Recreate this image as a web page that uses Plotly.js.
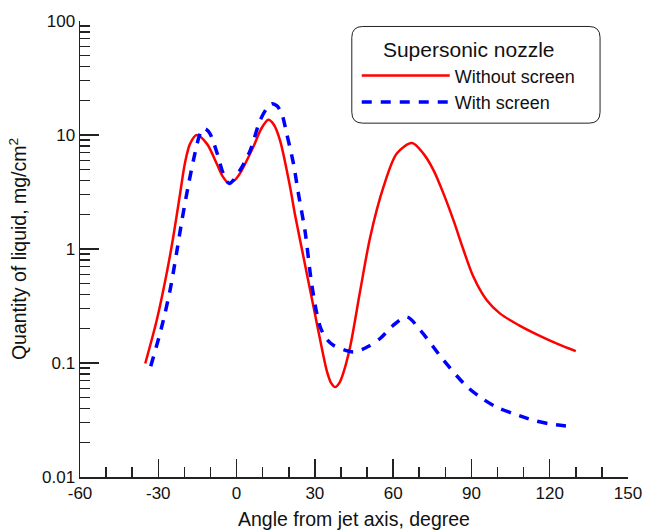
<!DOCTYPE html>
<html>
<head>
<meta charset="utf-8">
<script src="https://cdn.plot.ly/plotly-3.0.1.min.js"></script>
<style>html,body{margin:0;padding:0;background:#fff;}#chart{width:646px;height:530px;}</style>
</head>
<body>
<div id="chart"></div>
<script>
// Without screen (red, solid)
const xWithout = [-35, -30.6, -26.8, -24.2, -21.7, -19.7, -17.8, -15.3, -11.4, -7.6, -5.5, -3.1, -0.8, 1.3, 6.4, 9.5, 12.2, 14.3, 16.7, 20.5, 22.4, 25.6, 29.5, 32.7, 34.6, 36.2, 37.8, 39.4, 41, 43.5, 47.4, 51.2, 56.3, 61.4, 67.2, 71.6, 75.5, 79.3, 83.1, 87.0, 90.8, 95.9, 101, 108.1, 116.4, 123, 130];
const yWithout = [0.099, 0.237, 0.61, 1.3, 3.0, 5.8, 8.4, 10.0, 8.4, 5.6, 4.4, 3.8, 4.0, 4.6, 7.85, 11.4, 13.6, 12.3, 8.9, 3.5, 2.0, 0.86, 0.31, 0.134, 0.085, 0.067, 0.0615, 0.067, 0.083, 0.138, 0.434, 1.27, 3.5, 6.87, 8.5, 6.87, 4.9, 3.06, 1.79, 0.975, 0.568, 0.355, 0.271, 0.215, 0.172, 0.147, 0.127];
// With screen (blue, dashed)
const xWith = [-32.9, -28.7, -25.5, -22.9, -21, -18.5, -15.9, -14.3, -13, -11.6, -10.2, -7.6, -5.1, -2.8, 1.3, 5.2, 9.0, 11.5, 13.5, 15.5, 17.3, 19.2, 21.8, 23.7, 26.3, 28.5, 30.5, 32.3, 34.5, 37.1, 44.8, 50, 55, 60, 65.3, 70.4, 79.3, 88.3, 94.6, 99.7, 106, 113.8, 121, 129.1];
const yWith = [0.0935, 0.207, 0.434, 0.95, 1.75, 3.6, 7.0, 9.8, 11.4, 11.2, 10.3, 7.1, 4.6, 3.75, 4.9, 7.3, 13.4, 17.0, 18.8, 18.0, 15.4, 10.3, 5.6, 3.06, 1.4, 0.55, 0.29, 0.2, 0.162, 0.143, 0.125, 0.138, 0.164, 0.214, 0.253, 0.194, 0.106, 0.062, 0.048, 0.041, 0.036, 0.0314, 0.029, 0.0275];

const xTicks = [-60, -30, 0, 30, 60, 90, 120, 150];
const xTickText = ['-60', '-30', '0', '30', '60', '90', '120', '150'];
const yTicks = [0.01, 0.1, 1, 10, 100];
const yTickText = ['0.01', '0.1', '1', '10', '100'];
const yMinor = [0.02,0.03,0.04,0.05,0.06,0.07,0.08,0.09,0.2,0.3,0.4,0.5,0.6,0.7,0.8,0.9,2,3,4,5,6,7,8,9,20,30,40,50,60,70,80,90];

const font = 'Liberation Sans, Arial, sans-serif';
const axisColor = '#222';

const traces = [
  {x: xWithout, y: yWithout, mode: 'lines', name: 'Without screen',
   line: {color: '#ff0000', width: 2.5, shape: 'spline', smoothing: 0.85}},
  {x: xWith, y: yWith, mode: 'lines', name: 'With screen',
   line: {color: '#0000ff', width: 3.5, dash: '10px,9px', shape: 'spline', smoothing: 0.85}}
];

// rounded legend frame in paper coords
const bx0 = 0.496, bx1 = 0.949, by0 = 0.776, by1 = 0.988, rx = 0.02, ry = 0.024;
const framePath = `M ${bx0+rx} ${by1} L ${bx1-rx} ${by1} Q ${bx1} ${by1} ${bx1} ${by1-ry} L ${bx1} ${by0+ry} Q ${bx1} ${by0} ${bx1-rx} ${by0} L ${bx0+rx} ${by0} Q ${bx0} ${by0} ${bx0} ${by0+ry} L ${bx0} ${by1-ry} Q ${bx0} ${by1} ${bx0+rx} ${by1} Z`;

const layout = {
  width: 646, height: 530,
  margin: {l: 80, r: 18, t: 21, b: 53, pad: 0},
  paper_bgcolor: '#fff', plot_bgcolor: '#fff',
  font: {family: font, size: 17, color: '#111'},
  showlegend: true,
  legend: {
    x: 0.505, y: 0.98, xanchor: 'left', yanchor: 'top',
    bgcolor: 'rgba(0,0,0,0)', borderwidth: 0,
    itemwidth: 88,
    font: {family: font, size: 18, color: '#111'},
    title: {text: 'Supersonic nozzle', side: 'top center', font: {family: font, size: 21, color: '#111'}},
    tracegroupgap: 0
  },
  shapes: [
    {type: 'path', xref: 'paper', yref: 'paper', path: framePath,
     line: {color: '#222', width: 1}, fillcolor: 'rgba(0,0,0,0)', layer: 'above'}
  ],
  xaxis: {
    range: [-60, 150], tickmode: 'array', tickvals: xTicks, ticktext: xTickText,
    ticks: 'inside', ticklen: 18, tickwidth: 1.5, tickcolor: axisColor,
    showline: true, linecolor: axisColor, linewidth: 1.5,
    showgrid: false, zeroline: false,
    tickfont: {family: font, size: 17, color: '#111'},
    minor: {dtick: 10, tick0: 0, ticks: 'inside', ticklen: 10, tickwidth: 1.5, tickcolor: axisColor, showgrid: false},
    title: {text: 'Angle from jet axis, degree', font: {family: font, size: 19.5, color: '#111'}, standoff: 10}
  },
  yaxis: {
    type: 'log', range: [-2, 2], tickmode: 'array', tickvals: yTicks, ticktext: yTickText,
    ticks: 'inside', ticklen: 19, tickwidth: 1.5, tickcolor: axisColor,
    showline: true, linecolor: axisColor, linewidth: 1.5,
    showgrid: false, zeroline: false,
    tickfont: {family: font, size: 17, color: '#111'},
    minor: {tickmode: 'array', tickvals: yMinor, ticks: 'inside', ticklen: 10, tickwidth: 1.5, tickcolor: axisColor, showgrid: false},
    title: {text: 'Quantity of liquid, mg/cm<sup>2</sup>', font: {family: font, size: 19.5, color: '#111'}, standoff: 10}
  }
};

Plotly.newPlot('chart', traces, layout, {displayModeBar: false, staticPlot: true});
</script>
</body>
</html>
